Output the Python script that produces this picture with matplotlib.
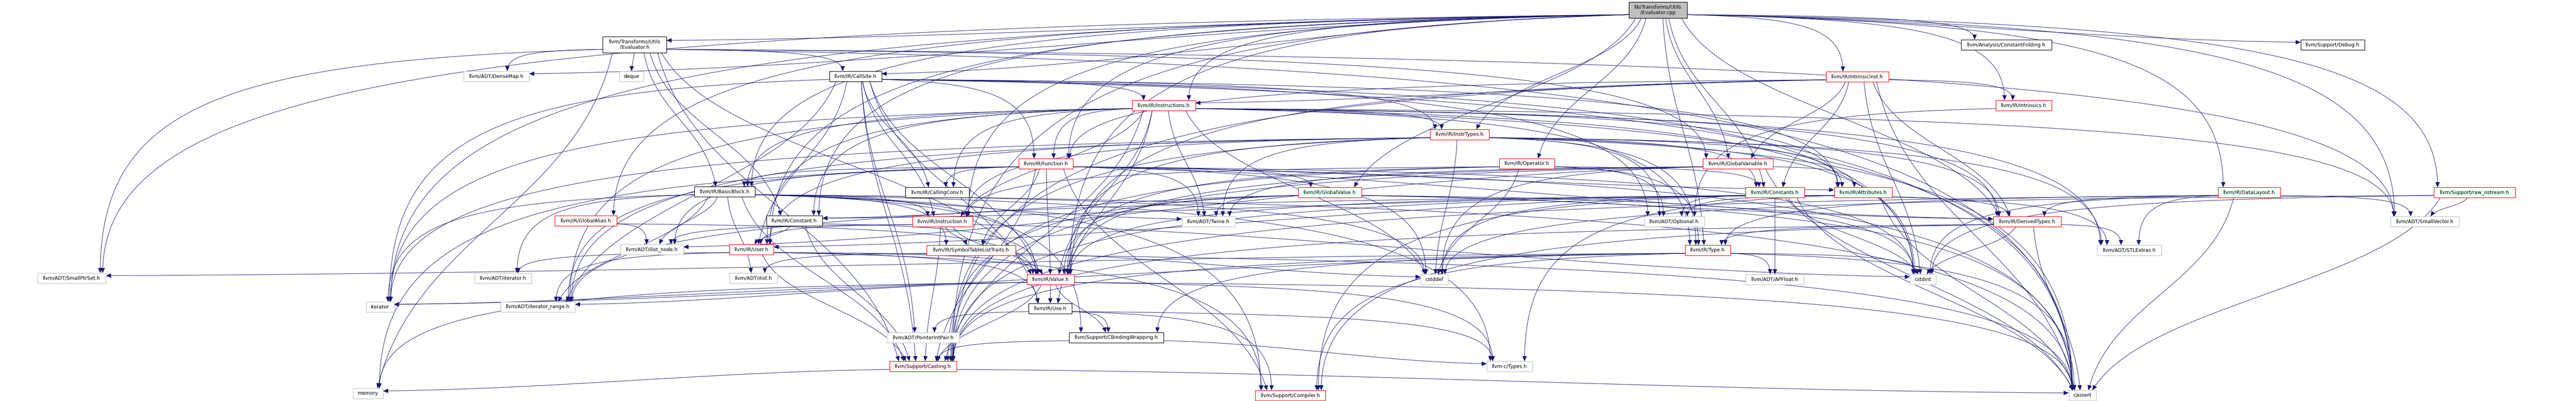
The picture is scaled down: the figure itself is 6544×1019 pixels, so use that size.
import numpy as np
import matplotlib
matplotlib.use("Agg")
import matplotlib.pyplot as plt
from matplotlib.patches import Rectangle, FancyArrowPatch
from matplotlib.path import Path

# ---------------- data ----------------
node_keys = ["cpp", "evh", "densemap", "deque", "callsite", "bb", "galias", "constant",
             "ilistnode", "user", "iterh", "ilist", "itrange", "smallptrset", "iterator",
             "memory", "instructions", "function", "callingconv", "instruction", "twine",
             "symtab", "value", "use", "pip", "cbw", "casting", "compiler", "gvalue",
             "instrtypes", "operator", "gvar", "optional", "type", "cstddef", "ctypes",
             "cfold", "intrinst", "intrinsics", "constants", "attributes", "derived",
             "stlextras", "apfloat", "cstdint", "cassert", "debug", "datalayout", "rawos",
             "smallvec"]

node_labels = {
    "cpp": "lib/Transforms/Utils\n/Evaluator.cpp",
    "evh": "llvm/Transforms/Utils\n/Evaluator.h",
    "densemap": "llvm/ADT/DenseMap.h",
    "deque": "deque",
    "callsite": "llvm/IR/CallSite.h",
    "bb": "llvm/IR/BasicBlock.h",
    "galias": "llvm/IR/GlobalAlias.h",
    "constant": "llvm/IR/Constant.h",
    "ilistnode": "llvm/ADT/ilist_node.h",
    "user": "llvm/IR/User.h",
    "iterh": "llvm/ADT/iterator.h",
    "ilist": "llvm/ADT/ilist.h",
    "itrange": "llvm/ADT/iterator_range.h",
    "smallptrset": "llvm/ADT/SmallPtrSet.h",
    "iterator": "iterator",
    "memory": "memory",
    "instructions": "llvm/IR/Instructions.h",
    "function": "llvm/IR/Function.h",
    "callingconv": "llvm/IR/CallingConv.h",
    "instruction": "llvm/IR/Instruction.h",
    "twine": "llvm/ADT/Twine.h",
    "symtab": "llvm/IR/SymbolTableListTraits.h",
    "value": "llvm/IR/Value.h",
    "use": "llvm/IR/Use.h",
    "pip": "llvm/ADT/PointerIntPair.h",
    "cbw": "llvm/Support/CBindingWrapping.h",
    "casting": "llvm/Support/Casting.h",
    "compiler": "llvm/Support/Compiler.h",
    "gvalue": "llvm/IR/GlobalValue.h",
    "instrtypes": "llvm/IR/InstrTypes.h",
    "operator": "llvm/IR/Operator.h",
    "gvar": "llvm/IR/GlobalVariable.h",
    "optional": "llvm/ADT/Optional.h",
    "type": "llvm/IR/Type.h",
    "cstddef": "cstddef",
    "ctypes": "llvm-c/Types.h",
    "cfold": "llvm/Analysis/ConstantFolding.h",
    "intrinst": "llvm/IR/IntrinsicInst.h",
    "intrinsics": "llvm/IR/Intrinsics.h",
    "constants": "llvm/IR/Constants.h",
    "attributes": "llvm/IR/Attributes.h",
    "derived": "llvm/IR/DerivedTypes.h",
    "stlextras": "llvm/ADT/STLExtras.h",
    "apfloat": "llvm/ADT/APFloat.h",
    "cstdint": "cstdint",
    "cassert": "cassert",
    "debug": "llvm/Support/Debug.h",
    "datalayout": "llvm/IR/DataLayout.h",
    "rawos": "llvm/Support/raw_ostream.h",
    "smallvec": "llvm/ADT/SmallVector.h",
}

# node kind: root / black (complete) / red (truncated) / gray (external)
node_kind = {
    "cpp": "root", "evh": "black", "densemap": "gray", "deque": "gray", "callsite": "black",
    "bb": "black", "galias": "red", "constant": "black", "ilistnode": "gray", "user": "red",
    "iterh": "gray", "ilist": "gray", "itrange": "gray", "smallptrset": "gray",
    "iterator": "gray", "memory": "gray", "instructions": "red", "function": "red",
    "callingconv": "black", "instruction": "red", "twine": "gray", "symtab": "red",
    "value": "red", "use": "black", "pip": "gray", "cbw": "black", "casting": "red",
    "compiler": "red", "gvalue": "red", "instrtypes": "red", "operator": "red",
    "gvar": "red", "optional": "gray", "type": "red", "cstddef": "gray", "ctypes": "gray",
    "cfold": "black", "intrinst": "red", "intrinsics": "red", "constants": "red",
    "attributes": "red", "derived": "red", "stlextras": "gray", "apfloat": "gray",
    "cstdint": "gray", "cassert": "gray", "debug": "black", "datalayout": "red",
    "rawos": "red", "smallvec": "gray",
}

edges = [
    ("cpp", ["evh", "densemap", "smallptrset", "smallvec", "cfold", "bb", "callsite",
             "constant", "constants", "datalayout", "derived", "function", "galias",
             "gvalue", "gvar", "instrtypes", "instruction", "instructions", "intrinst",
             "intrinsics", "operator", "type", "user", "value", "casting", "debug",
             "rawos", "iterator"]),
    ("evh", ["densemap", "smallptrset", "smallvec", "bb", "callsite", "constant", "gvar",
             "value", "casting", "cassert", "deque", "memory"]),
    ("callsite", ["optional", "pip", "itrange", "attributes", "callingconv", "function",
                  "instrtypes", "instruction", "instructions", "use", "user", "value",
                  "casting", "cassert", "cstdint", "iterator"]),
    ("bb", ["ctypes", "twine", "ilist", "ilistnode", "iterh", "itrange", "instruction",
            "symtab", "value", "cbw", "casting", "compiler", "cassert", "cstddef",
            "iterator"]),
    ("constant", ["user", "value", "casting"]),
    ("galias", ["ilistnode", "value"]),
    ("user", ["iterh", "itrange", "use", "value", "casting", "compiler", "cassert"]),
    ("instructions", ["stlextras", "smallvec", "twine", "iterator", "itrange", "attributes",
                      "bb", "callingconv", "constant", "derived", "function", "instrtypes",
                      "instruction", "type", "use", "user", "value", "casting", "cassert",
                      "cstddef", "cstdint"]),
    ("function", ["ilistnode", "itrange", "twine", "attributes", "bb", "callingconv",
                  "derived", "gvalue", "symtab", "value", "casting", "compiler", "cassert",
                  "cstddef", "cstdint", "memory"]),
    ("instruction", ["ilistnode", "symtab", "user", "value", "casting", "cstdint"]),
    ("symtab", ["ilist", "cstddef"]),
    ("value", ["itrange", "use", "cbw", "casting", "ctypes", "cassert", "iterator",
               "memory"]),
    ("use", ["pip", "cbw", "compiler", "ctypes"]),
    ("cbw", ["casting", "ctypes"]),
    ("casting", ["cassert", "memory"]),
    ("gvalue", ["twine", "constant", "derived", "value", "casting", "cassert", "cstdint"]),
    ("instrtypes", ["optional", "stlextras", "twine", "itrange", "attributes", "constants",
                    "derived", "instruction", "type", "user", "value", "casting",
                    "cassert", "cstddef", "cstdint", "iterator"]),
    ("operator", ["optional", "constants", "instruction", "type", "value", "casting",
                  "cstddef"]),
    ("gvar", ["twine", "ilistnode", "attributes", "value", "casting", "cassert",
              "cstddef"]),
    ("type", ["apfloat", "smallptrset", "cbw", "casting", "compiler", "cassert", "cstdint",
              "iterator"]),
    ("intrinst", ["constants", "derived", "function", "gvar", "instructions", "intrinsics",
                  "value", "casting", "cassert", "cstdint"]),
    ("intrinsics", ["optional"]),
    ("constants", ["apfloat", "optional", "stlextras", "constant", "derived", "user",
                   "value", "casting", "compiler", "cassert", "cstddef", "cstdint"]),
    ("attributes", ["ctypes", "optional", "itrange", "cassert"]),
    ("derived", ["stlextras", "type", "casting", "compiler", "cassert", "cstdint"]),
    ("datalayout", ["stlextras", "smallvec", "derived", "type", "casting", "cassert",
                    "cstdint"]),
    ("rawos", ["smallvec", "cassert", "cstddef", "cstdint"]),
]

# ---------------- layout (pixel coordinates) ----------------
node_cx = {"cpp": 4212, "evh": 1612, "densemap": 1261, "deque": 1604, "callsite": 2173,
           "bb": 1841, "galias": 1488, "constant": 2018, "ilistnode": 1656, "user": 1909,
           "iterh": 1278, "ilist": 1914, "itrange": 1366, "smallptrset": 182,
           "iterator": 965, "memory": 935, "instructions": 2956, "function": 2657,
           "callingconv": 2381, "instruction": 2394, "twine": 3070, "symtab": 2467,
           "value": 2669, "use": 2668, "pip": 2345, "cbw": 2836, "casting": 2345,
           "compiler": 3278, "gvalue": 3378, "instrtypes": 3708, "operator": 3879,
           "gvar": 4415, "optional": 4253, "type": 4338, "cstddef": 3644, "ctypes": 3835,
           "cfold": 5097, "intrinst": 4718, "intrinsics": 5141, "constants": 4509,
           "attributes": 4733, "derived": 5150, "stlextras": 5409, "apfloat": 4509,
           "cstdint": 4885, "cassert": 5290, "debug": 5926, "datalayout": 5714,
           "rawos": 6286, "smallvec": 6160}
node_cy = {"cpp": 25, "evh": 113, "densemap": 194, "deque": 194, "callsite": 194,
           "bb": 487, "galias": 561, "constant": 561, "ilistnode": 634, "user": 634,
           "iterh": 707, "ilist": 707, "itrange": 780, "smallptrset": 707, "iterator": 780,
           "memory": 1000, "instructions": 268, "function": 416, "callingconv": 489,
           "instruction": 563, "twine": 563, "symtab": 636, "value": 710, "use": 784,
           "pip": 858, "cbw": 858, "casting": 931, "compiler": 1005, "gvalue": 489,
           "instrtypes": 342, "operator": 416, "gvar": 416, "optional": 563, "type": 636,
           "cstddef": 710, "ctypes": 931, "cfold": 114, "intrinst": 195, "intrinsics": 268,
           "constants": 489, "attributes": 489, "derived": 563, "stlextras": 636,
           "apfloat": 710, "cstdint": 710, "cassert": 1005, "debug": 114,
           "datalayout": 489, "rawos": 489, "smallvec": 563}
node_w = {"cpp": 148, "evh": 162, "densemap": 166, "deque": 62, "callsite": 133, "bb": 154,
          "galias": 158, "constant": 142, "ilistnode": 160, "user": 112, "iterh": 144,
          "ilist": 122, "itrange": 189, "smallptrset": 174, "iterator": 71, "memory": 76,
          "instructions": 161, "function": 138, "callingconv": 162, "instruction": 153,
          "twine": 135, "symtab": 226, "value": 120, "use": 110, "pip": 184, "cbw": 240,
          "casting": 170, "compiler": 178, "gvalue": 161, "instrtypes": 150,
          "operator": 140, "gvar": 178, "optional": 153, "type": 115, "cstddef": 70,
          "ctypes": 116, "cfold": 230, "intrinst": 159, "intrinsics": 142,
          "constants": 150, "attributes": 147, "derived": 172, "stlextras": 164,
          "apfloat": 148, "cstdint": 66, "cassert": 69, "debug": 162, "datalayout": 158,
          "rawos": 207, "smallvec": 174}
node_h = {k: (41 if k in ("cpp", "evh") else 26) for k in node_keys}

W, H = 6544, 1019
EDGE_COLOR = "#191970"
BORDER = {"root": "#000000", "black": "#000000", "red": "#ff0000", "gray": "#bfbfbf"}
FILL = {"root": "#bfbfbf", "black": "white", "red": "white", "gray": "white"}

fig = plt.figure(figsize=(W / 100, H / 100), dpi=100)
ax = fig.add_axes([0, 0, 1, 1])
ax.set_xlim(0, W)
ax.set_ylim(H, 0)
ax.axis("off")


def bounds(k):
    cx, cy, w, h = node_cx[k], node_cy[k], node_w[k], node_h[k]
    return cx - w / 2, cx + w / 2, cy - h / 2, cy + h / 2


for s, targets in edges:
    for t in targets:
        sl, sr, st, sb = bounds(s)
        tl, tr, tt, tb = bounds(t)
        scx, scy = node_cx[s], node_cy[s]
        tcx, tcy = node_cx[t], node_cy[t]
        dx, dy = tcx - scx, tcy - scy
        if abs(dy) < 40 or abs(dx) > 12 * abs(dy):
            # nearly the same rank: side to side
            sgn = 1 if dy >= 0 else -1
            if dx > 0:
                p0 = (sr, scy + sgn * node_h[s] * 0.3)
                p3 = (tl, tcy - sgn * node_h[t] * 0.25)
            else:
                p0 = (sl, scy + sgn * node_h[s] * 0.3)
                p3 = (tr, tcy - sgn * node_h[t] * 0.25)
            ddx = p3[0] - p0[0]
            c1 = (p0[0] + ddx * 0.35, p0[1] + (p3[1] - p0[1]) * 0.1)
            c2 = (p3[0] - ddx * 0.35, p3[1] - (p3[1] - p0[1]) * 0.1)
        elif abs(dx) > 2.0 * abs(dy):
            # long sideways edge: leave from the side, come down into the top
            p0 = (sr if dx > 0 else sl, scy + node_h[s] * 0.3)
            p3 = (tcx - (node_w[t] / 2 - 8) * np.tanh(dx / 900.0), tt)
            ddx = p3[0] - p0[0]
            ddy = p3[1] - p0[1]
            c1 = (p0[0] + ddx * 0.75, p0[1] + ddy * 0.05)
            c2 = (p3[0], p3[1] - ddy * 0.75)
        else:
            f = np.tanh(dx / 700.0)
            p0 = (scx + (node_w[s] / 2 - 6) * f, sb)
            p3 = (tcx - (node_w[t] / 2 - 6) * f, tt)
            ddy = p3[1] - p0[1]
            c1 = (p0[0] + (p3[0] - p0[0]) * 0.15, p0[1] + ddy * 0.45)
            c2 = (p3[0] - (p3[0] - p0[0]) * 0.15, p3[1] - ddy * 0.45)
        path = Path([p0, c1, c2, p3], [Path.MOVETO, Path.CURVE4, Path.CURVE4, Path.CURVE4])
        arr = FancyArrowPatch(path=path, arrowstyle="-|>,head_length=0.8,head_width=0.35",
                              mutation_scale=10, color=EDGE_COLOR, lw=0.8, zorder=1)
        ax.add_patch(arr)

for k in node_keys:
    l, r, t, b = bounds(k)
    kind = node_kind[k]
    ax.add_patch(Rectangle((l, t), r - l, b - t, facecolor=FILL[kind],
                           edgecolor=BORDER[kind], lw=1.0, zorder=3))
    ax.text(node_cx[k], node_cy[k], node_labels[k], ha="center", va="center",
            fontsize=9, family="DejaVu Sans", color="black", zorder=4, linespacing=1.15)

fig.savefig("out.png", dpi=100, facecolor="white")
